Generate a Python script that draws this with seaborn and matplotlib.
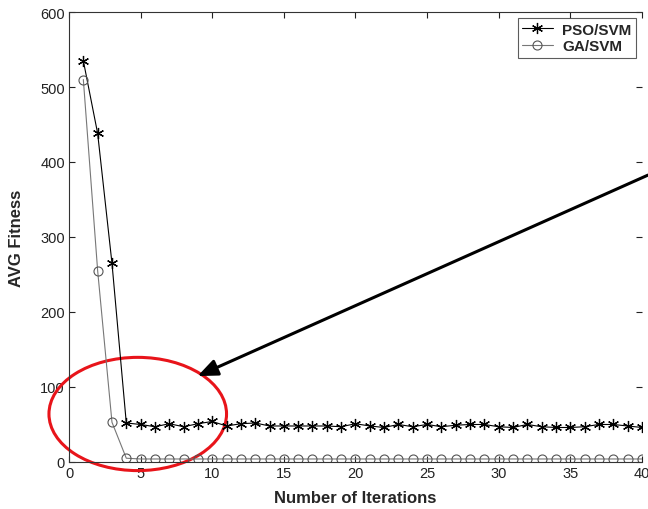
import matplotlib
matplotlib.use('Agg')
import matplotlib.pyplot as plt
from matplotlib.patches import Ellipse
import seaborn as sns
import pandas as pd

# data
iterations = list(range(1, 41))
pso_svm = [535, 438, 265, 52, 50, 47, 51, 47, 51, 54,
           48, 51, 52, 48, 48, 48, 48, 48, 47, 51,
           48, 46, 50, 47, 50, 47, 49, 50, 50, 47,
           46, 50, 47, 46, 46, 47, 50, 50, 48, 46]
ga_svm = [510, 255, 53, 5, 4, 4, 4, 4, 4, 4,
          4, 4, 4, 4, 4, 4, 4, 4, 4, 4,
          4, 4, 4, 4, 4, 4, 4, 4, 4, 4,
          4, 4, 4, 4, 4, 4, 4, 4, 4, 4]

x_ticks = [0, 5, 10, 15, 20, 25, 30, 35, 40]
y_ticks = [0, 100, 200, 300, 400, 500, 600]

df = pd.DataFrame({'iter': iterations, 'pso': pso_svm, 'ga': ga_svm})

sns.set_style('ticks')
plt.rcParams['font.family'] = ['Liberation Sans', 'DejaVu Sans']

fig = plt.figure(figsize=(6.48, 5.10), dpi=100)
ax = fig.add_axes([0.1065, 0.0922, 0.884, 0.8823])

# asterisk marker like the matlab '*'
sns.lineplot(data=df, x='iter', y='pso', ax=ax, color='black', lw=0.8,
             marker=(6, 2, 0), markersize=8, markeredgecolor='black',
             markeredgewidth=0.9, label='PSO/SVM')
sns.lineplot(data=df, x='iter', y='ga', ax=ax, color='#777777', lw=0.8,
             marker='o', markersize=6.5, markeredgecolor='#555555',
             markerfacecolor='none', markeredgewidth=0.8, label='GA/SVM')

ax.set_xlim(0, 40)
ax.set_ylim(0, 600)
ax.set_xticks(x_ticks)
ax.set_yticks(y_ticks)
ax.tick_params(direction='in', length=4, width=0.8, labelsize=10.5,
               top=True, right=True, colors='#222222', pad=3)
for side in ['left', 'bottom', 'top']:
    ax.spines[side].set_linewidth(0.8)
    ax.spines[side].set_color('#333333')
ax.spines['right'].set_visible(False)

ax.set_xlabel('Number of Iterations', fontsize=12, fontweight='bold', labelpad=7)
ax.set_ylabel('AVG Fitness', fontsize=12, fontweight='bold', labelpad=12)

leg = ax.legend(loc='upper right', prop={'weight': 'bold', 'size': 11},
                frameon=True, fancybox=False, handlelength=2.0,
                borderpad=0.3, labelspacing=0.15, handletextpad=0.6,
                borderaxespad=0.4)
leg.get_frame().set_edgecolor('#333333')
leg.get_frame().set_linewidth(0.8)

# red ellipse highlighting the convergence region
ell = Ellipse((4.8, 64), 12.4, 151, fill=False, edgecolor='#e8141a',
              linewidth=2.2, clip_on=False)
ax.add_patch(ell)

# arrow pointing into the ellipse
ax.annotate('', xy=(8.8, 113), xytext=(40.6, 384),
            arrowprops=dict(arrowstyle='-|>,head_length=1.2,head_width=0.5',
                            color='black', lw=2.2),
            annotation_clip=False)

fig.savefig('out.png', dpi=100)
